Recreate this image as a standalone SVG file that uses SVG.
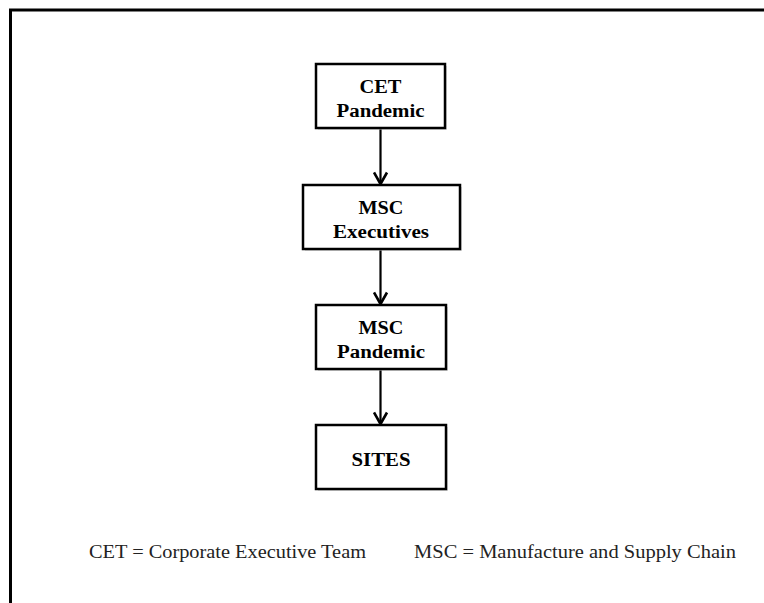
<svg xmlns="http://www.w3.org/2000/svg" width="764" height="603" viewBox="0 0 764 603">
  <defs>
    <style>
      .box { fill: #ffffff; stroke: #000000; stroke-width: 2.5; }
      .shadow { fill: #c4c4c4; opacity: 0.55; }
      .label { font-family: "Liberation Serif", "DejaVu Serif", serif; font-weight: bold; font-size: 18.5px; fill: #000000; text-anchor: middle; }
      .legend { font-family: "Liberation Serif", "DejaVu Serif", serif; font-size: 18.5px; fill: #222222; }
      .conn { stroke: #000000; stroke-width: 2.2; fill: none; }
    </style>
    <marker id="arrow" viewBox="0 0 16 16" refX="13" refY="8" markerWidth="16" markerHeight="16" markerUnits="userSpaceOnUse" orient="auto">
      <path d="M1.5,1.5 L13,8 L1.5,14.5" fill="none" stroke="#000000" stroke-width="2.6"/>
    </marker>
  </defs>

  <rect width="764" height="603" fill="#ffffff"/>
  <!-- outer frame, continuing past the right and bottom edges -->
  <rect x="10.5" y="10" width="780" height="620" fill="none" stroke="#000000" stroke-width="3"/>

  <g id="connectors">
    <line class="conn" x1="380.5" y1="129" x2="380.5" y2="184" marker-end="url(#arrow)"/>
    <line class="conn" x1="380.5" y1="250" x2="380.5" y2="304" marker-end="url(#arrow)"/>
    <line class="conn" x1="380.5" y1="370" x2="380.5" y2="424" marker-end="url(#arrow)"/>
  </g>

  <g id="cet-pandemic">
    <rect class="shadow" x="318" y="66" width="129" height="64"/>
    <rect class="box" x="316" y="64" width="129" height="64"/>
    <text class="label" x="380.5" y="93" textLength="42" lengthAdjust="spacingAndGlyphs">CET</text>
    <text class="label" x="380.5" y="117" textLength="88" lengthAdjust="spacingAndGlyphs">Pandemic</text>
  </g>

  <g id="msc-executives">
    <rect class="shadow" x="305" y="187" width="157" height="64"/>
    <rect class="box" x="303" y="185" width="157" height="64"/>
    <text class="label" x="381" y="214" textLength="45" lengthAdjust="spacingAndGlyphs">MSC</text>
    <text class="label" x="381" y="238" textLength="96" lengthAdjust="spacingAndGlyphs">Executives</text>
  </g>

  <g id="msc-pandemic">
    <rect class="shadow" x="318" y="307" width="130" height="64"/>
    <rect class="box" x="316" y="305" width="130" height="64"/>
    <text class="label" x="381" y="334" textLength="45" lengthAdjust="spacingAndGlyphs">MSC</text>
    <text class="label" x="381" y="358" textLength="88" lengthAdjust="spacingAndGlyphs">Pandemic</text>
  </g>

  <g id="sites">
    <rect class="shadow" x="318" y="427" width="130" height="64"/>
    <rect class="box" x="316" y="425" width="130" height="64"/>
    <text class="label" x="381" y="466" textLength="59" lengthAdjust="spacingAndGlyphs">SITES</text>
  </g>

  <g id="legend">
    <text class="legend" x="89" y="558" textLength="277" lengthAdjust="spacingAndGlyphs">CET = Corporate Executive Team</text>
    <text class="legend" x="414" y="558" textLength="322" lengthAdjust="spacingAndGlyphs">MSC = Manufacture and Supply Chain</text>
  </g>
</svg>
